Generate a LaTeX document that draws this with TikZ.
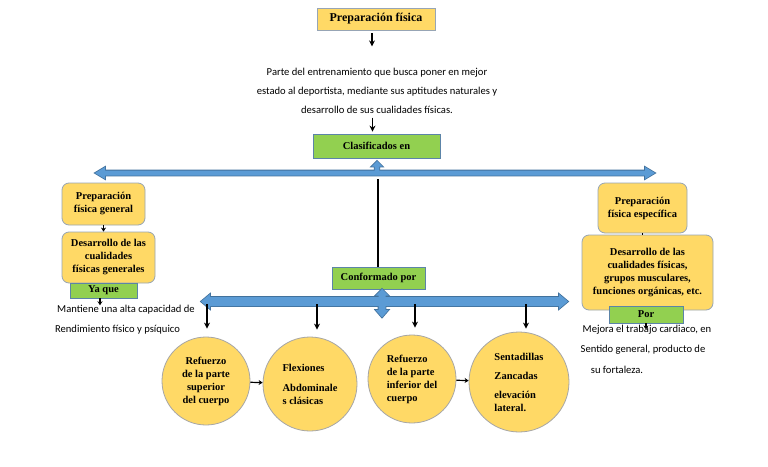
\documentclass[tikz,border=0pt]{standalone}
\usepackage{fontspec}
\setmainfont{Liberation Serif}
\newfontfamily\calfont{Carlito}
\usetikzlibrary{arrows.meta,calc}
\definecolor{yel}{HTML}{FFD966}
\definecolor{ybord}{HTML}{97A5B5}
\definecolor{grn}{HTML}{92D050}
\definecolor{gbord}{HTML}{5C84A8}
\definecolor{blu}{HTML}{5B9BD5}
\definecolor{bbord}{HTML}{41719C}
\definecolor{cbord}{HTML}{A6A6A6}
\tikzset{
  ybox/.style={draw=ybord, fill=yel, line width=0.8pt, align=center, inner sep=1pt,
    font=\bfseries\fontsize{10.5}{13}\selectfont},
  rbox/.style={ybox, rounded corners=7pt},
  gbox/.style={draw=gbord, fill=grn, line width=0.8pt, align=center, inner sep=1pt,
    font=\bfseries\fontsize{10.5}{13}\selectfont},
  circ/.style={circle, draw=cbord, fill=yel, line width=0.8pt, inner sep=0pt,
    font=\bfseries\fontsize{10.5}{13}\selectfont},
  txt/.style={font=\calfont\fontsize{10.6}{19}\selectfont, inner sep=0pt},
  arr/.style={-{Stealth[length=6pt,width=6pt]}, line width=1.4pt},
  sarr/.style={-{Stealth[length=4pt,width=5pt]}, line width=1.2pt},
  toparr/.style={insert path={(95,173) -- (105,167) -- (105,170.5) -- (645,170.5) -- (645,167) -- (655,173) -- (645,179) -- (645,175.5) -- (105,175.5) -- (105,179) -- cycle}},
  uparr/.style={insert path={(377,161) -- (382.5,166.5) -- (379.3,166.5) -- (379.3,172) -- (374.7,172) -- (374.7,166.5) -- (371.5,166.5) -- cycle}},
  botarr/.style={insert path={(201,301.5) -- (210,294) -- (210,297) -- (559,297) -- (559,294) -- (568,301.5) -- (559,309) -- (559,306) -- (210,306) -- (210,309) -- cycle}},
  vertarr/.style={insert path={(382,289) -- (388.5,295.5) -- (385.5,295.5) -- (385.5,310) -- (388.5,310) -- (382,317.5) -- (375.5,310) -- (378.5,310) -- (378.5,295.5) -- (375.5,295.5) -- cycle}},
}
\begin{document}
\begin{tikzpicture}[x=1pt,y=-1pt]
\useasboundingbox[fill=white] (0,0) rectangle (768,466);

% top
\node[ybox, minimum width=118pt, minimum height=22pt, rounded corners=0pt,
  font=\bfseries\fontsize{12}{14}\selectfont] (title) at (376,19) {Preparación física};
\node[txt, align=center] (def) at (377,91) {Parte del entrenamiento que busca poner en mejor\\
estado al deportista, mediante sus aptitudes naturales y\\
desarrollo de sus cualidades físicas.};
\node[gbox, minimum width=127pt, minimum height=24pt] (clas) at (376.5,146) {Clasificados en};
\node[gbox, minimum width=93pt, minimum height=22pt] (conf) at (378.5,278) {Conformado por};

\draw[arr] ($(title.south)+(-4,3)$) -- ($(title.south)+(-4,16)$);
\draw[arr] ($(clas.north)+(-4,-16)$) -- ($(clas.north)+(-4,-2)$);

% blue arrows (outline then fill, to merge)
\path[draw=bbord, line width=1.6pt, line join=miter, toparr];
\path[draw=bbord, line width=1.6pt, uparr];
\path[draw=bbord, line width=1.6pt, botarr];
\path[draw=bbord, line width=1.6pt, vertarr];
\path[fill=blu, toparr];
\path[fill=blu, uparr];
\path[fill=blu, botarr];
\path[fill=blu, vertarr];

\coordinate (tl) at (378,179);
\draw[line width=1.4pt] (tl) -- (conf.north -| tl);

% left branch
\node[rbox, minimum width=83pt, minimum height=42pt] (pfg) at (103.5,204) {Preparación\\física general};
\node[rbox, minimum width=93pt, minimum height=51pt] (dcfg) at (108.5,257.5) {Desarrollo de las\\cualidades\\físicas generales};
\node[gbox, minimum width=67pt, minimum height=15pt] (yaque) at (103.5,290.5) {Ya que};
\draw[sarr] (pfg.south) -- (dcfg.north -| pfg.south);
\node[txt] (mant1) at (126,310) {Mantiene una alta capacidad de};
\node[txt] (mant2) at (117.5,330) {Rendimiento físico y psíquico};
\draw[sarr] ($(yaque.south)+(-3.5,0)$) -- (mant1.north -| 100,0);

% right branch
\node[rbox, minimum width=89pt, minimum height=50pt] (pfe) at (642.5,208) {Preparación\\física específica};
\node[rbox, minimum width=131pt, minimum height=75pt] (dcf) at (647.5,272.5) {Desarrollo de las\\cualidades físicas,\\grupos musculares,\\funciones orgánicas, etc.};
\node[gbox, minimum width=74pt, minimum height=17pt] (por) at (646,314.5) {Por};
\draw[line width=1.4pt] (pfe.south) -- (dcf.north -| pfe.south);
\node[txt] (mej1) at (647,330) {Mejora el trabajo cardiaco, en};
\node[txt] (mej2) at (643,350) {Sentido general, producto de};
\node[txt] (mej3) at (617,370) {su fortaleza.};
\draw[sarr] (por.south) -- ++(0,6);

% circles
\node[circ, minimum size=88pt, align=center] (c1) at (206,381) {Refuerzo\\de la parte\\superior\\del cuerpo};
\node[circ, minimum size=94pt, align=left] (c2) at (310,384) {Flexiones\\[7pt]Abdominale\\s clásicas};
\node[circ, minimum size=88pt, align=left] (c3) at (412,379) {Refuerzo\\de la parte\\inferior del\\cuerpo};
\node[circ, minimum size=100pt, align=left] (c4) at (519,382) {Sentadillas\\[6pt]Zancadas\\[6pt]elevación\\lateral.};

\draw[sarr] (c1) -- (c2);
\draw[sarr] (c3) -- (c4);

\coordinate (d1) at (207,304);
\coordinate (d2) at (317,304);
\coordinate (d3) at (415,304);
\coordinate (d4) at (526,304);
\draw[arr] (d1) -- ($(c1.north -| d1)+(0,-8)$);
\draw[arr] (d2) -- ($(c2.north -| d2)+(0,-7)$);
\draw[arr] (d3) -- ($(c3.north -| d3)+(0,-7)$);
\draw[arr] (d4) -- ($(c4.north -| d4)+(0,-3)$);
\end{tikzpicture}
\end{document}
